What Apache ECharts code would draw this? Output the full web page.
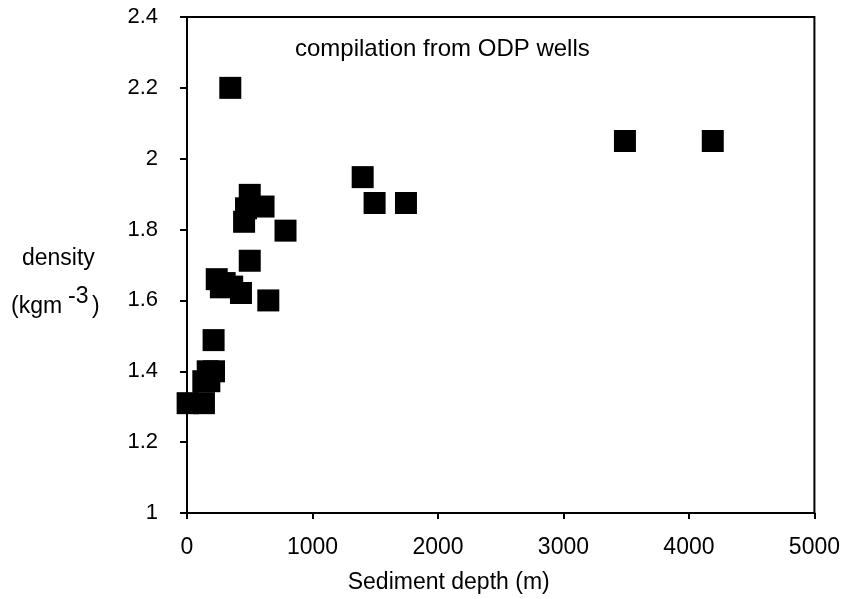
<!DOCTYPE html>
<html>
<head>
<meta charset="utf-8">
<script src="https://cdn.jsdelivr.net/npm/echarts@6/dist/echarts.min.js"></script>
<style>
  html, body { margin: 0; padding: 0; background: #fff; }
  #chart { width: 843px; height: 599px; }
</style>
</head>
<body>
<div id="chart"></div>
<script>
// sediment depth (m) and density
var depths = [5, 135, 130, 178, 165, 215, 212, 237, 270, 300, 360, 430, 648, 500,
              455, 470, 610, 500, 785, 345, 1400, 1495, 1745, 3490, 4190];
var densities = [1.31, 1.31, 1.372, 1.372, 1.40, 1.40, 1.488, 1.66, 1.637, 1.649, 1.639, 1.621, 1.60, 1.712,
                 1.822, 1.86, 1.865, 1.898, 1.797, 2.20, 1.948, 1.875, 1.875, 2.05, 2.05];
var xTicks = [0, 1000, 2000, 3000, 4000, 5000];
var yTicks = [1, 1.2, 1.4, 1.6, 1.8, 2, 2.2, 2.4];

var fontFamily = 'Liberation Sans, Arial, sans-serif';

var points = [];
for (var i = 0; i < depths.length; i++)
    points.push([depths[i], densities[i]]);

var chart = echarts.init(document.getElementById('chart'));

function label(text, left, top, size) {
    return {
        type: 'text',
        left: left,
        top: top,
        style: { text: text, fill: '#000', font: size + 'px ' + fontFamily }
    };
}

chart.setOption({
    animation: false,
    backgroundColor: '#fff',
    grid: {
        left: 187,
        right: 27,
        top: 17,
        bottom: 85,
        show: true,
        borderColor: '#000',
        borderWidth: 2
    },
    xAxis: {
        type: 'value',
        min: xTicks[0],
        max: xTicks[xTicks.length - 1],
        interval: 1000,
        name: 'Sediment depth (m)',
        nameLocation: 'middle',
        nameGap: 58,
        nameTextStyle: {
            color: '#000', fontSize: 23, fontFamily: fontFamily,
            padding: [0, 104, 0, 0]
        },
        axisLine: { show: true, lineStyle: { color: '#000', width: 2 } },
        axisTick: { show: true, length: 6, lineStyle: { color: '#000', width: 2 } },
        axisLabel: {
            color: '#000', fontSize: 23, fontFamily: fontFamily, margin: 23,
            formatter: function (v) { return xTicks.indexOf(v) > -1 ? String(v) : ''; }
        },
        splitLine: { show: false }
    },
    yAxis: {
        type: 'value',
        min: yTicks[0],
        max: yTicks[yTicks.length - 1],
        interval: 0.2,
        axisLine: { show: true, lineStyle: { color: '#000', width: 2 } },
        axisTick: { show: true, length: 7, lineStyle: { color: '#000', width: 2 } },
        axisLabel: {
            color: '#000', fontSize: 22, fontFamily: fontFamily, margin: 29,
            formatter: function (v) {
                return String(Math.round(v * 10) / 10);
            }
        },
        splitLine: { show: false }
    },
    graphic: [
        label('compilation from ODP wells', 295, 37, 24),
        label('density', 22, 247, 23),
        label('(kgm', 11, 295, 23),
        label('-3', 68, 285, 23),
        label(')', 92, 295, 23)
    ],
    series: [
        {
            type: 'scatter',
            symbol: 'rect',
            symbolSize: 22,
            itemStyle: { color: '#000', opacity: 1 },
            data: points
        }
    ]
});
</script>
</body>
</html>
